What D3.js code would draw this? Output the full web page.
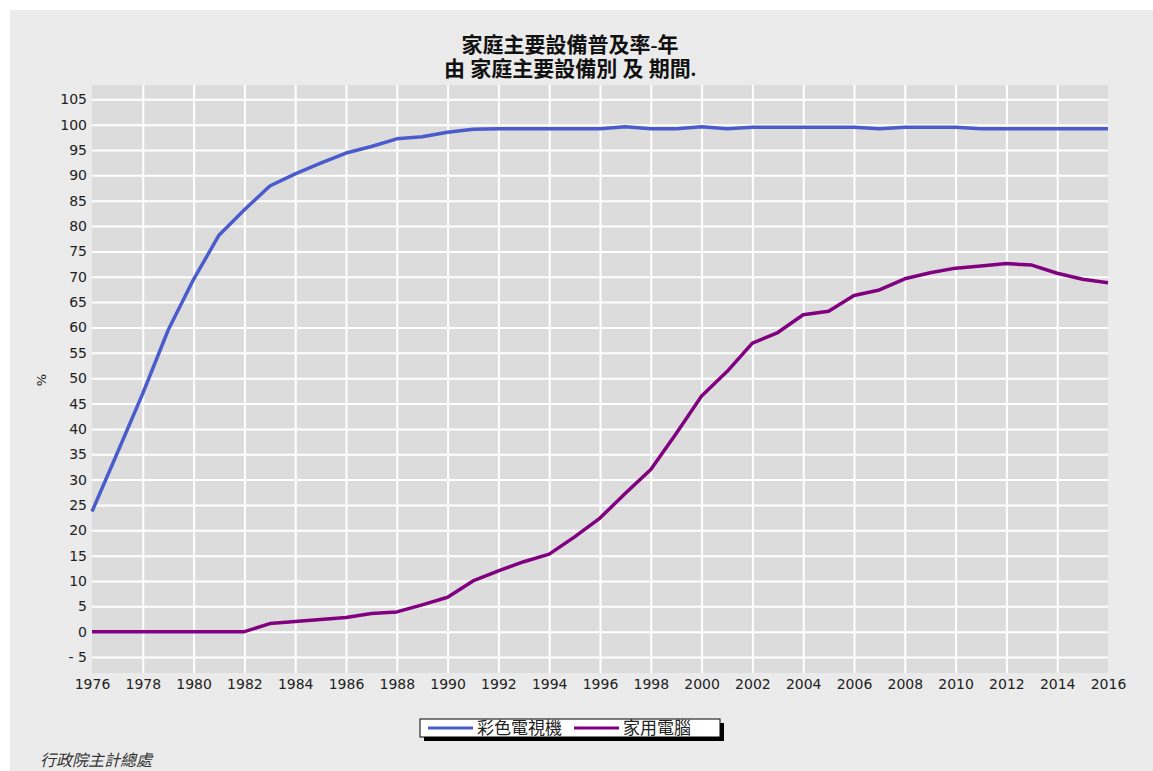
<!DOCTYPE html>
<html lang="zh-Hant">
<head>
<meta charset="utf-8">
<title>家庭主要設備普及率-年</title>
<script src="https://d3js.org/d3.v7.min.js"></script>
<style>
  body { margin: 0; background: #fff; }
  svg text { font-family: "DejaVu Sans", sans-serif; fill: #222; }
  .title { font-family: "Liberation Serif", "Noto Sans CJK TC", serif; font-weight: bold; font-size: 21px; fill: #111; }
  .tick text { font-size: 14px; }
  .grid line { stroke: #fff; stroke-width: 2; }
  .grid .domain { display: none; }
</style>
</head>
<body>
<script>
// years on the x axis
var years = d3.range(1976, 2017);

// 彩色電視機 (%)
var colorTv = [23.7, 35.3, 47.0, 59.5, 69.5, 78.2, 83.2, 87.9, 90.3, 92.4,
               94.4, 95.7, 97.2, 97.6, 98.5, 99.1, 99.2, 99.2, 99.2, 99.2,
               99.2, 99.6, 99.2, 99.2, 99.6, 99.2, 99.5, 99.5, 99.5, 99.5,
               99.5, 99.2, 99.5, 99.5, 99.5, 99.2, 99.2, 99.2, 99.2, 99.2, 99.2];

// 家用電腦 (%)
var homePc = [0, 0, 0, 0, 0, 0, 0, 1.6, 2.0, 2.4,
              2.8, 3.6, 3.9, 5.3, 6.8, 10.0, 12.0, 13.8, 15.3, 18.7,
              22.4, 27.3, 32.0, 39.1, 46.5, 51.3, 56.9, 59.0, 62.5, 63.2,
              66.3, 67.4, 69.6, 70.8, 71.7, 72.1, 72.6, 72.3, 70.7, 69.5, 68.8];

var seriesNames = ["彩色電視機", "家用電腦"];
var seriesColors = ["#4a5ccc", "#80007f"];
var titleLines = ["家庭主要設備普及率-年", "由 家庭主要設備別 及 期間."];
var yTicks = d3.range(-5, 106, 5);
var xTicks = d3.range(1976, 2017, 2);

var w = 1153, h = 771;

var svg = d3.select("body").append("svg")
  .attr("width", w)
  .attr("height", h);

// grey panel
svg.append("rect")
  .attr("x", 10).attr("y", 10)
  .attr("width", w - 10).attr("height", h - 10)
  .attr("fill", "#ebebeb");

var x = d3.scaleLinear().domain([1976, 2016]).range([92, 1108]);
var y = d3.scaleLinear().domain([0, 105]).range([631.7, 99.3]);
var plotTop = 85, plotBottom = 673;

// plot area
svg.append("rect")
  .attr("x", x(1976)).attr("y", plotTop)
  .attr("width", x(2016) - x(1976)).attr("height", plotBottom - plotTop)
  .attr("fill", "#dcdcdc");

// gridlines
svg.append("g")
  .attr("class", "grid")
  .attr("transform", "translate(0," + plotBottom + ")")
  .call(d3.axisBottom(x).tickValues(xTicks.slice(1, -1)).tickSize(-(plotBottom - plotTop)).tickFormat(""));

svg.append("g")
  .attr("class", "grid")
  .attr("transform", "translate(" + x(1976) + ",0)")
  .call(d3.axisLeft(y).tickValues(yTicks).tickSize(-(x(2016) - x(1976))).tickFormat(""));

// axes labels
var xAxis = svg.append("g")
  .attr("transform", "translate(0," + plotBottom + ")")
  .call(d3.axisBottom(x).tickValues(xTicks).tickSize(0).tickPadding(6).tickFormat(d3.format("d")));
xAxis.select(".domain").remove();

var yAxis = svg.append("g")
  .attr("transform", "translate(" + (x(1976) - 4) + ",0)")
  .call(d3.axisLeft(y).tickValues(yTicks).tickSize(0).tickPadding(1)
    .tickFormat(function(d) { return d < 0 ? "- " + (-d) : d; }));
yAxis.select(".domain").remove();

svg.append("text")
  .attr("transform", "translate(46,380) rotate(-90)")
  .attr("text-anchor", "middle")
  .style("font-size", "13px")
  .text("%");

// lines
var line = d3.line()
  .x(function(d, i) { return x(years[i]); })
  .y(function(d) { return y(d); });

[colorTv, homePc].forEach(function(s, i) {
  svg.append("path")
    .datum(s)
    .attr("fill", "none")
    .attr("stroke", seriesColors[i])
    .attr("stroke-width", 3.5)
    .attr("stroke-linejoin", "round")
    .attr("d", line);
});

// title
titleLines.forEach(function(t, i) {
  svg.append("text").attr("class", "title")
    .attr("x", 570).attr("y", 52 + i * 24)
    .attr("text-anchor", "middle")
    .text(t);
});

// legend
var lg = svg.append("g");
lg.append("rect").attr("x", 424).attr("y", 723).attr("width", 300).attr("height", 18).attr("fill", "#000");
lg.append("rect").attr("x", 420).attr("y", 719).attr("width", 300).attr("height", 18)
  .attr("fill", "#fff").attr("stroke", "#000").attr("stroke-width", 1);
var legendX = [428, 574];
seriesNames.forEach(function(n, i) {
  lg.append("line")
    .attr("x1", legendX[i]).attr("x2", legendX[i] + 45)
    .attr("y1", 728).attr("y2", 728)
    .attr("stroke", seriesColors[i]).attr("stroke-width", 3);
  lg.append("text")
    .attr("x", legendX[i] + 49).attr("y", 734)
    .style("font-family", "'Noto Sans CJK TC', sans-serif")
    .style("font-size", "17px")
    .text(n);
});

// source
svg.append("text")
  .attr("x", 40).attr("y", 766)
  .style("font-family", "'Noto Sans CJK TC', sans-serif")
  .style("font-size", "16px")
  .style("font-style", "italic")
  .style("fill", "#333")
  .text("行政院主計總處");
</script>
</body>
</html>
